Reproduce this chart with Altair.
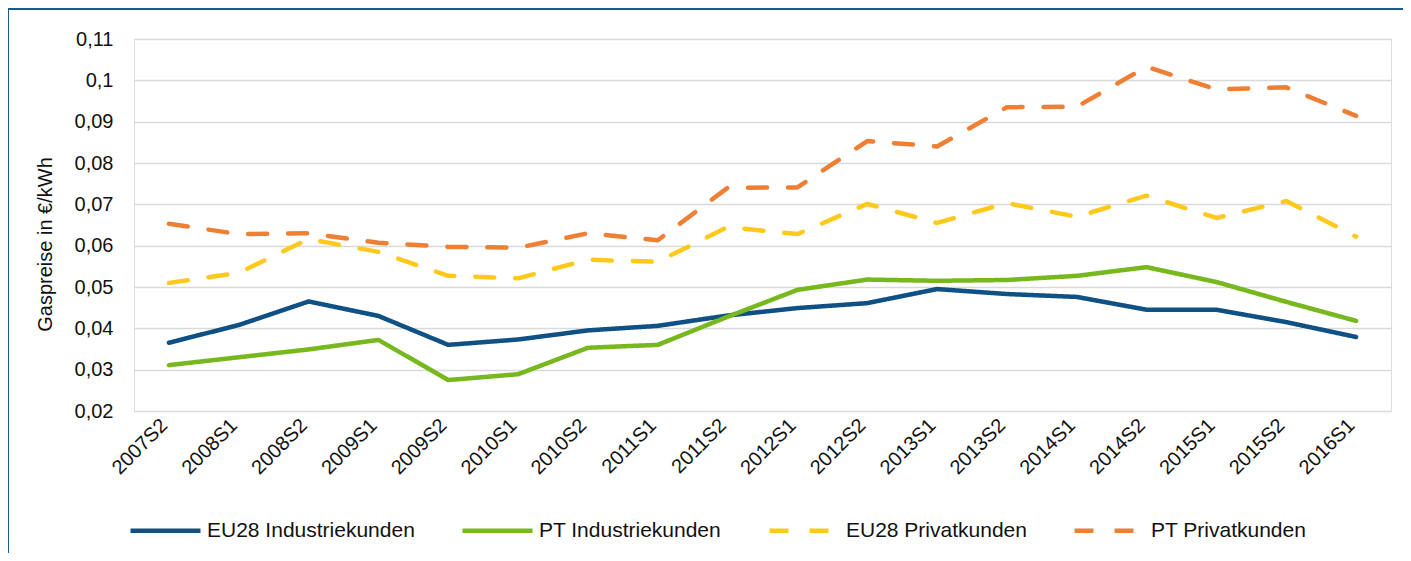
import altair as alt
import pandas as pd

periods = ["2007S2", "2008S1", "2008S2", "2009S1", "2009S2", "2010S1", "2010S2", "2011S1", "2011S2",
           "2012S1", "2012S2", "2013S1", "2013S2", "2014S1", "2014S2", "2015S1", "2015S2", "2016S1"]

eu28_ind = [0.0365, 0.0408, 0.0465, 0.0430, 0.0360, 0.0373, 0.0395, 0.0406, 0.0431,
            0.0449, 0.0461, 0.0495, 0.0483, 0.0476, 0.0445, 0.0445, 0.0415, 0.0379]
pt_ind = [0.0311, 0.0330, 0.0349, 0.0372, 0.0275, 0.0289, 0.0353, 0.0360, 0.0428,
          0.0493, 0.0518, 0.0515, 0.0517, 0.0527, 0.0548, 0.0512, 0.0464, 0.0418]
eu28_priv = [0.0510, 0.0534, 0.0616, 0.0585, 0.0527, 0.0521, 0.0566, 0.0561, 0.0645,
             0.0628, 0.0701, 0.0655, 0.0703, 0.0670, 0.0721, 0.0667, 0.0708, 0.0622]
pt_priv = [0.0653, 0.0628, 0.0630, 0.0607, 0.0597, 0.0595, 0.0630, 0.0613, 0.0740,
           0.0741, 0.0853, 0.0840, 0.0935, 0.0936, 0.1033, 0.0978, 0.0983, 0.0914]

series_names = ["EU28 Industriekunden", "PT Industriekunden", "EU28 Privatkunden", "PT Privatkunden"]
series_values = [eu28_ind, pt_ind, eu28_priv, pt_priv]
series_colors = ["#0F5085", "#77B81E", "#FFC91C", "#EE7F33"]
series_dash = [[1, 0], [1, 0], [19, 21], [19, 21]]

y_ticks = [0.02, 0.03, 0.04, 0.05, 0.06, 0.07, 0.08, 0.09, 0.10, 0.11]

rows = []
for name, vals in zip(series_names, series_values):
    for p, v in zip(periods, vals):
        rows.append({"Zeitraum": p, "Preis": v, "Serie": name})
df = pd.DataFrame(rows)

FONT = "Liberation Sans"
TXT = "#111111"

lines = alt.Chart(df).mark_line(strokeWidth=4.5, strokeCap="round", strokeJoin="round").encode(
    x=alt.X("Zeitraum:N", sort=periods, scale=alt.Scale(type="point", padding=0.5),
            axis=alt.Axis(title=None, labelAngle=-45, labelAlign="right", labelBaseline="middle",
                          labelPadding=11, labelOffset=-5, ticks=False, domain=False, grid=False,
                          labelFontSize=20, labelFont=FONT, labelColor=TXT)),
    y=alt.Y("Preis:Q", scale=alt.Scale(domain=[0.02, 0.11], nice=False, zero=False),
            axis=alt.Axis(title="Gaspreise in €/kWh", values=y_ticks,
                          labelExpr="replace(format(datum.value, '.2~f'), '.', ',')",
                          labelPadding=21, ticks=False, domain=False, grid=True,
                          gridColor="#D9D9D9", gridWidth=1.5,
                          labelFontSize=20, labelFont=FONT, labelColor=TXT,
                          titleFontSize=20, titleFont=FONT, titleColor=TXT, titleFontWeight="normal",
                          titleX=-89, titleY=205, titleAngle=-90, titleAlign="center",
                          titleBaseline="middle")),
    color=alt.Color("Serie:N", sort=series_names,
                    scale=alt.Scale(domain=series_names, range=series_colors),
                    legend=alt.Legend(title=None, orient="none", direction="horizontal",
                                      legendX=-6, legendY=454, padding=0,
                                      symbolType="stroke", symbolSize=4900, symbolStrokeWidth=4.5,
                                      labelFontSize=21, labelFont=FONT, labelColor=TXT,
                                      labelLimit=500, labelOffset=4, columnPadding=38)),
    strokeDash=alt.StrokeDash("Serie:N", sort=series_names,
                              scale=alt.Scale(domain=series_names, range=series_dash),
                              legend=None),
)

frame = alt.Chart(alt.Data(values=[{"f": 1}])).mark_rect(
    fill=None, stroke="#1A5A8C", strokeWidth=2, clip=False
).encode(
    x=alt.value(-126), x2=alt.value(1300), y=alt.value(-30), y2=alt.value(560)
)

chart = alt.layer(frame, lines).properties(
    width=1257, height=372,
    autosize=alt.AutoSizeParams(type="none"),
    padding={"left": 126, "top": 31, "right": 12, "bottom": 142},
).configure_view(stroke=None).configure(background="white")

chart.save("out.html", embed_options={"renderer": "svg", "actions": False})
